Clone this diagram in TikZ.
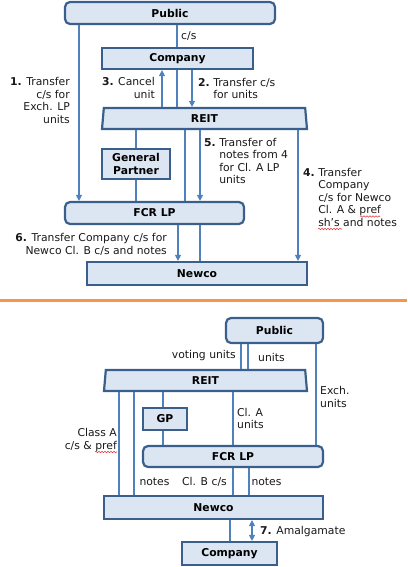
\documentclass[tikz,border=0pt]{standalone}
\usepackage{fontspec}
\setmainfont{DejaVu Sans}
\usepackage{xcolor}
\usetikzlibrary{arrows.meta,shapes.geometric,decorations.pathmorphing}
\definecolor{mrgFill}{HTML}{DCE6F2}
\definecolor{mrgEdge}{HTML}{3A5F8B}
\definecolor{mrgLine}{HTML}{4F81BD}
\definecolor{mrgSplit}{HTML}{F79646}
\definecolor{mrgSpell}{HTML}{E5393A}
\newcommand{\steplabel}[2]{\textbf{#1.}~\begin{tabular}[t]{@{}l@{}}#2\end{tabular}}
\tikzset{
  box/.style={
    draw=mrgEdge,
    line width=2.2pt,
    fill=mrgFill,
    align=center,
    inner sep=0pt,
    font=\fontsize{10.8}{12.5}\selectfont\bfseries
  },
  roundbox/.style={box, rounded corners=5pt},
  trapbox/.style={
    box,
    trapezium,
    trapezium left angle=77,
    trapezium right angle=77,
    trapezium stretches body=true
  },
  lbl/.style={inner sep=0pt, font=\fontsize{10.8}{12.5}\selectfont, text=black!90},
  link/.style={draw=mrgLine, line width=1.1pt},
  arrow/.style={link, -{Triangle[length=6pt,width=6pt]}},
  twoarrow/.style={link, {Triangle[length=6pt,width=6pt]}-{Triangle[length=6pt,width=6pt]}},
  spell/.style={draw=mrgSpell, line width=0.6pt, decorate,
    decoration={snake, amplitude=0.7pt, segment length=3pt}}
}

\begin{document}
\begin{tikzpicture}[x=1pt, y=-1pt]
  \useasboundingbox (0,0) rectangle (407,567);

  % before the merger
  \node[roundbox, minimum width=210pt, minimum height=22pt] (public) at (170,13) {Public};
  \node[box, minimum width=151pt, minimum height=21pt] (company) at (177.5,58.5) {Company};
  \node[trapbox, minimum width=205pt, minimum height=21pt] (reit) at (204.5,118.5) {REIT};
  \node[box, minimum width=68pt, minimum height=30pt] (partner) at (136,164) {General\\Partner};
  \node[roundbox, minimum width=179pt, minimum height=22pt] (fcrlp) at (154.5,213) {FCR LP};
  \node[box, minimum width=220pt, minimum height=23pt] (newco) at (197,273.5) {Newco};

  \draw[link] (public.south -| 177,0) -- (company.north -| 177,0);
  \draw[arrow] (public.south -| 79,0) -- (fcrlp.north -| 79,0);
  \draw[arrow] (reit.north -| 162,0) -- (company.south -| 162,0);
  \draw[link] (company.south -| 177,0) -- (reit.north -| 177,0);
  \draw[arrow] (company.south -| 192,0) -- (reit.north -| 192,0);
  \draw[link] (reit.south -| partner.north) -- (partner.north);
  \draw[link] (partner.south) -- (fcrlp.north -| partner.south);
  \draw[link] (reit.south -| 185,0) -- (fcrlp.north -| 185,0);
  \draw[arrow] (reit.south -| 200,0) -- (fcrlp.north -| 200,0);
  \draw[arrow] (reit.south -| 298,0) -- (newco.north -| 298,0);
  \draw[arrow] (fcrlp.south -| 178,0) -- (newco.north -| 178,0);
  \draw[link] (fcrlp.south -| 200,0) -- (newco.north -| 200,0);

  \node[lbl, anchor=west] (cslabel) at (181,36) {c/s};
  \node[lbl, anchor=north east, align=right] (stepone) at (70,77.5) {\textbf{1.} Transfer\\c/s for\\Exch. LP\\units};
  \node[lbl, anchor=north east, align=right] (stepthree) at (155,77.5) {\textbf{3.} Cancel\\unit};
  \node[lbl, anchor=north west] (steptwo) at (198,77.5) {\steplabel{2}{Transfer c/s\\for units}};
  \node[lbl, anchor=north west] (stepfive) at (204,137.5) {\steplabel{5}{Transfer of\\notes from 4\\for Cl. A LP\\units}};
  \node[lbl, anchor=north west] (stepfour) at (303,167.5) {\steplabel{4}{Transfer\\Company\\c/s for Newco\\Cl. A \& pref\\sh’s and notes}};
  \node[lbl, anchor=north east, align=right] (stepsix) at (167,233.5) {\textbf{6.} Transfer Company c/s for\\Newco Cl. B c/s and notes};
  \draw[spell] (360,216.5) -- (380,216.5);
  \draw[spell] (318,229) -- (342,229);

  % divider
  \draw[draw=mrgSplit, line width=2.5pt] (0,300.5) -- (407,300.5);

  % after the merger
  \node[roundbox, minimum width=97pt, minimum height=25pt] (publicpost) at (274.5,330.5) {Public};
  \node[trapbox, minimum width=203pt, minimum height=21pt] (reitpost) at (205.5,380.5) {REIT};
  \node[box, minimum width=44pt, minimum height=22pt] (gppost) at (165,419) {GP};
  \node[roundbox, minimum width=180pt, minimum height=21pt] (fcrlppost) at (233,456.5) {FCR LP};
  \node[box, minimum width=219pt, minimum height=23pt] (newcopost) at (213.5,507.5) {Newco};
  \node[box, minimum width=95pt, minimum height=23pt] (companypost) at (229.5,553.5) {Company};

  \draw[link] (publicpost.south -| 241,0) -- (reitpost.north -| 241,0);
  \draw[link] (publicpost.south -| 248,0) -- (reitpost.north -| 248,0);
  \draw[link] (publicpost.south -| 316,0) -- (fcrlppost.north -| 316,0);
  \draw[link] (reitpost.south -| 119,0) -- (newcopost.north -| 119,0);
  \draw[link] (reitpost.south -| 134,0) -- (newcopost.north -| 134,0);
  \draw[link] (reitpost.south -| 163,0) -- (gppost.north -| 163,0);
  \draw[link] (gppost.south -| 163,0) -- (fcrlppost.north -| 163,0);
  \draw[link] (reitpost.south -| 233,0) -- (fcrlppost.north -| 233,0);
  \draw[link] (fcrlppost.south -| 233,0) -- (newcopost.north -| 233,0);
  \draw[link] (fcrlppost.south -| 249,0) -- (newcopost.north -| 249,0);
  \draw[link] (newcopost.south -| 230,0) -- (companypost.north -| 230,0);
  \draw[twoarrow] (newcopost.south -| 252,0) -- (companypost.north -| 252,0);

  \node[lbl, anchor=east] (votinglabel) at (236,356) {voting units};
  \node[lbl, anchor=west] (unitslabel) at (258,357) {units};
  \node[lbl, anchor=north west, align=left] (exchlabel) at (320,386.5) {Exch.\\units};
  \node[lbl, anchor=north west, align=left] (clalabel) at (237,408) {Cl. A\\units};
  \node[lbl, anchor=north east, align=right] (classlabel) at (117,428.5) {Class A\\c/s \& pref};
  \node[lbl] (noteslabel) at (154.5,482) {notes};
  \node[lbl] (clblabel) at (204.5,482) {Cl. B c/s};
  \node[lbl] (notesright) at (266.5,482) {notes};
  \node[lbl, anchor=west] (stepseven) at (260,532) {\textbf{7.} Amalgamate};
  \draw[spell] (95,452) -- (117,452);
\end{tikzpicture}
\end{document}
